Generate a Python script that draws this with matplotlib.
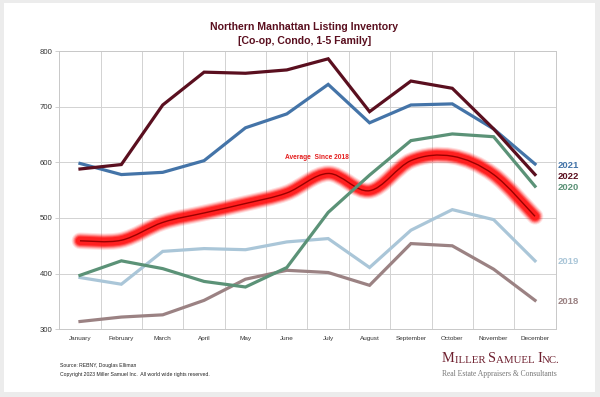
import matplotlib
matplotlib.use('Agg')
from matplotlib import pyplot as plt
from matplotlib.path import Path
from matplotlib.patches import PathPatch, Rectangle
import numpy as np

months = ['January', 'February', 'March', 'April', 'May', 'June', 'July',
          'August', 'September', 'October', 'November', 'December']
y2018 = [314, 322, 326, 352, 390, 406, 402, 379, 454, 450, 408, 352]
y2019 = [393, 381, 440, 445, 443, 457, 463, 411, 478, 515, 497, 423]
y2020 = [397, 423, 409, 386, 376, 411, 510, 577, 639, 651, 646, 557]
y2021 = [598, 578, 582, 603, 662, 687, 740, 671, 703, 705, 660, 597]
y2022 = [588, 596, 703, 762, 760, 766, 786, 691, 746, 733, 660, 578]
avg = [459, 460, 492, 509, 526, 545, 580, 549, 603, 611, 578, 503]

series = [
    ('2018', y2018, '#9b8283'),
    ('2019', y2019, '#aac6d8'),
    ('2020', y2020, '#5b9277'),
    ('2021', y2021, '#4474a8'),
    ('2022', y2022, '#5a0f1f'),
]
label_y = {'2021': 165, '2022': 176.5, '2020': 187.5, '2019': 262, '2018': 302}

plt.rcParams['font.family'] = ['Liberation Sans', 'DejaVu Sans']

fig = plt.figure(figsize=(6, 3.97), dpi=100)
fig.patch.set_facecolor('#ececec')
fig.patches.append(Rectangle((4 / 600, 5 / 397), 591 / 600, 389 / 397, transform=fig.transFigure,
                             facecolor='white', edgecolor='none', zorder=-5))

ax = fig.add_axes([59.3 / 600, 67.7 / 397, 496.4 / 600, 278.3 / 397])
ax.set_facecolor('none')
x = np.arange(len(months))

# smoothed average line (bezier through the monthly points)
pts = np.column_stack([x, avg]).astype(float)
verts = [pts[0]]
codes = [Path.MOVETO]
for i in range(len(pts) - 1):
    p0 = pts[max(i - 1, 0)]
    p1 = pts[i]
    p2 = pts[i + 1]
    p3 = pts[min(i + 2, len(pts) - 1)]
    verts += [p1 + (p2 - p0) / 6, p2 - (p3 - p1) / 6, p2]
    codes += [Path.CURVE4] * 3
avg_path = Path(verts, codes)
for lw, a in [(12, 0.12), (10.5, 0.2), (9, 0.32), (7.5, 0.5), (6, 0.7)]:
    ax.add_patch(PathPatch(avg_path, facecolor='none', edgecolor='#ff1010', lw=lw, alpha=a,
                           capstyle='round', joinstyle='round', zorder=2))
ax.add_patch(PathPatch(avg_path, facecolor='none', edgecolor='#9a0000', lw=1.0, zorder=3))

for name, vals, col in series:
    ax.plot(x, vals, color=col, lw=2.3, zorder=4, solid_joinstyle='miter')
    fig.text(558 / 600, 1 - label_y[name] / 397, name, color=col, fontsize=6.8,
             fontweight='bold', va='center', ha='left')

ax.text(6.5, 609, 'Average  Since 2018', color='#e41e1e', fontsize=4.8, fontweight='bold',
        ha='right', va='center', zorder=5)

ax.set_xlim(-0.5, 11.5)
ax.set_ylim(300, 800)
ax.set_yticks(range(300, 801, 100))
ax.set_xticks(x)
ax.set_xticklabels(months, fontsize=4.6, color='#333333')
ax.set_xticks(np.arange(0.5, 11.5, 1), minor=True)
ax.tick_params(axis='x', which='both', length=0, pad=5)
ax.tick_params(axis='y', length=3, width=0.6, color='#c8c8c8', labelsize=5.6,
               labelcolor='#333333', pad=2)
ax.grid(axis='y', color='#d2d2d2', lw=0.7)
ax.grid(axis='x', which='minor', color='#d2d2d2', lw=0.7)
for s in ax.spines.values():
    s.set_color('#c8c8c8')
    s.set_linewidth(0.7)

fig.text(304.5 / 600, 1 - 27 / 397, 'Northern Manhattan Listing Inventory', color='#5a0f1f',
         fontsize=7.6, fontweight='bold', ha='center', va='center')
fig.text(304.5 / 600, 1 - 40.5 / 397, '[Co-op, Condo, 1-5 Family]', color='#5a0f1f',
         fontsize=7.6, fontweight='bold', ha='center', va='center')

fig.text(60 / 600, 1 - 365 / 397, 'Source: REBNY, Douglas Elliman', fontsize=3.7,
         color='#222222', va='center')
fig.text(60 / 600, 1 - 374.5 / 397,
         'Copyright 2023 Miller Samuel Inc.  All world wide rights reserved.', fontsize=3.7,
         color='#222222', va='center')

# logo in small caps
logo_col = '#6e1f2e'
prev = fig.text(442 / 600, 1 - 365 / 397, 'M', fontsize=10.3, color=logo_col,
                family='Liberation Serif', va='bottom')
for piece, size in [('ILLER ', 7.8), ('S', 10.3), ('AMUEL ', 7.8), ('I', 10.3), ('NC.', 7.8)]:
    prev = fig.add_artist(plt.Annotation(piece, xy=(1, 0), xycoords=prev, fontsize=size,
                                         color=logo_col, family='Liberation Serif',
                                         va='bottom', ha='left'))
fig.text(442 / 600, 1 - 374.5 / 397, 'Real Estate Appraisers & Consultants', fontsize=5.5,
         color='#777777', family='Liberation Serif', va='center')

fig.savefig('out.png', dpi=100)
